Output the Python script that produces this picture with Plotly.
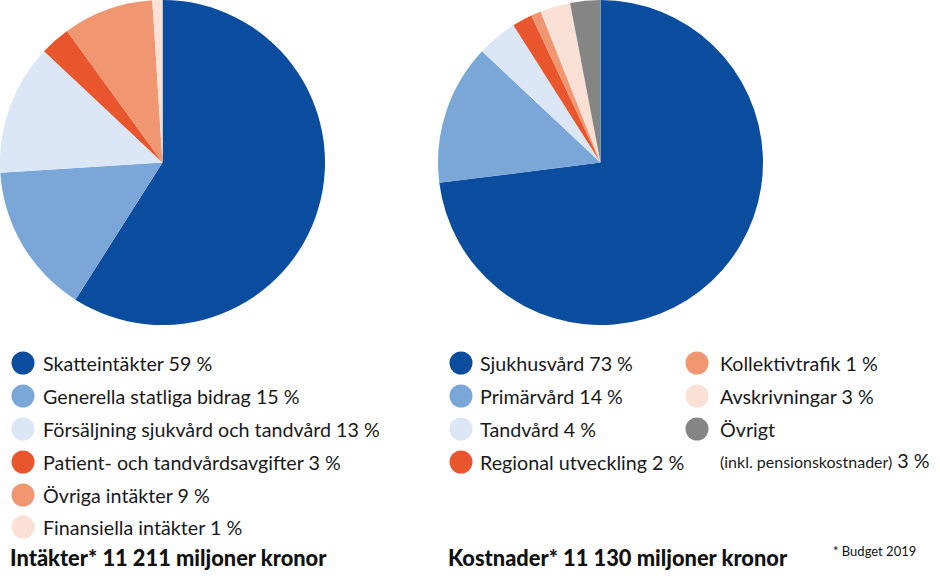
import plotly.graph_objects as go

W, H = 940, 579

# Data
income_labels = ["Skatteintäkter", "Generella statliga bidrag", "Försäljning sjukvård och tandvård",
                 "Patient- och tandvårdsavgifter", "Övriga intäkter", "Finansiella intäkter"]
income_values = [59, 15, 13, 3, 9, 1]
income_colors = ["#0a4c9e", "#7ba6d8", "#dbe7f6", "#e9552d", "#f09670", "#fbe1d5"]

cost_labels = ["Sjukhusvård", "Primärvård", "Tandvård", "Regional utveckling",
               "Kollektivtrafik", "Avskrivningar", "Övrigt"]
cost_values = [73, 14, 4, 2, 1, 3, 3]
cost_colors = ["#0a4c9e", "#7ba6d8", "#dbe7f6", "#e9552d", "#f09670", "#fbe1d5", "#858585"]

income_title = "Intäkter* 11 211 miljoner kronor"
cost_title = "Kostnader* 11 130 miljoner kronor"
footnote = "* Budget 2019"

FONT = "Lato"
FS = 19.7

fig = go.Figure()

def pie(labels, values, colors, x0, x1, y0, y1):
    fig.add_trace(go.Pie(
        labels=labels, values=values, sort=False, direction="clockwise", rotation=0,
        marker=dict(colors=colors, line=dict(width=0)), textinfo="none",
        hoverinfo="label+percent", showlegend=False,
        domain=dict(x=[x0 / W, x1 / W], y=[1 - y1 / H, 1 - y0 / H]),
    ))

pie(income_labels, income_values, income_colors, 0, 325, 0, 325)
pie(cost_labels, cost_values, cost_colors, 438, 763, 0, 325)

def legend_markers(colors, cx, ys):
    fig.add_trace(go.Scatter(
        x=[cx] * len(ys), y=ys, mode="markers",
        marker=dict(size=23, color=colors, line=dict(width=0)),
        hoverinfo="skip", showlegend=False, xaxis="x", yaxis="y"))

def txt(x, y, text, size=FS, anchor="left", color="#1a1a1a", weight=None):
    f = dict(family=FONT, size=size, color=color)
    if weight:
        f["weight"] = weight
    fig.add_annotation(x=x, y=y, text=text, showarrow=False, xanchor=anchor,
                       yanchor="middle", xref="x", yref="y", font=f)

row = [363, 396, 429, 462, 495, 527]
legend_markers(income_colors, 23, row)
for lab, v, y in zip(income_labels, income_values, row):
    txt(41, y, f"{lab} {v} %")

crow = [363, 396, 429, 462]
legend_markers(cost_colors[:4], 461, crow)
for lab, v, y in zip(cost_labels[:4], cost_values[:4], crow):
    txt(478, y, f"{lab} {v} %")

crow2 = [363, 396, 429]
legend_markers(cost_colors[4:], 697, crow2)
for lab, v, y in zip(cost_labels[4:6], cost_values[4:6], crow2[:2]):
    txt(718, y, f"{lab} {v} %")
txt(718, 429, cost_labels[6])
txt(718, 460, f"<span style='font-size:16px'>(inkl. pensionskostnader)</span> {cost_values[6]} %")

txt(8, 557, income_title, size=21.8, color="#111111", weight=900)
txt(446, 557, cost_title, size=21.8, color="#111111", weight=900)
txt(918, 551, footnote, size=13, anchor="right", color="#111111")

fig.update_layout(
    width=W, height=H, margin=dict(l=0, r=0, t=0, b=0),
    paper_bgcolor="white", plot_bgcolor="rgba(0,0,0,0)",
    xaxis=dict(range=[0, W], visible=False, domain=[0, 1], fixedrange=True),
    yaxis=dict(range=[H, 0], visible=False, domain=[0, 1], fixedrange=True),
    showlegend=False,
)

fig.write_html("out.html")
